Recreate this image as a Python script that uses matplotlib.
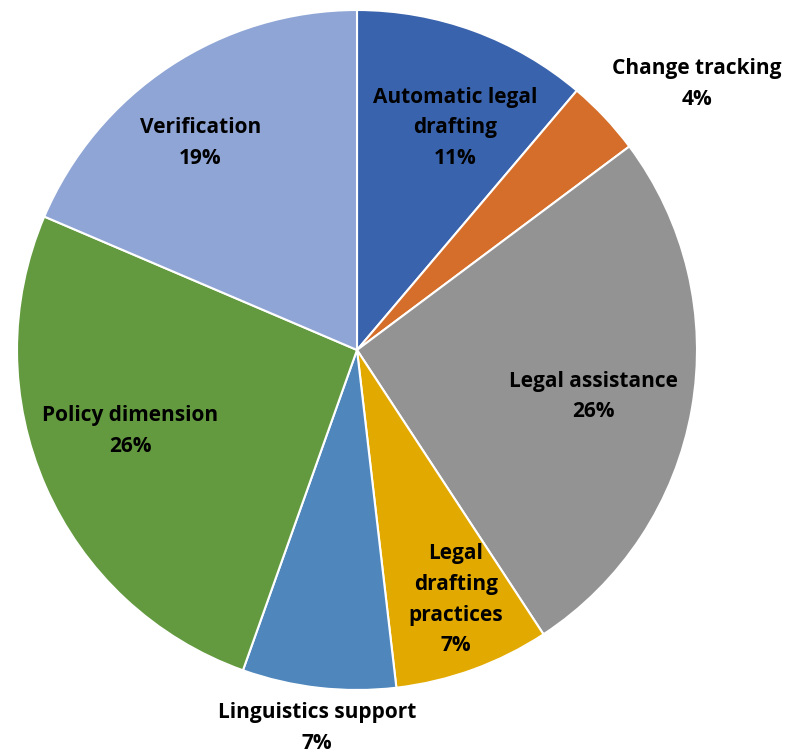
import numpy as np
import matplotlib.pyplot as plt

labels = ["Automatic legal\ndrafting", "Change tracking", "Legal assistance",
          "Legal\ndrafting\npractices", "Linguistics support", "Policy dimension",
          "Verification"]
shares = [11.2, 3.6, 26.0, 7.4, 7.3, 26.0, 18.6]
colors = ["#3A63AD", "#D46E2A", "#939393", "#E2AA00", "#4F87BD", "#639A3F", "#8FA5D5"]
# how far out each label sits (fraction of radius) and small angle nudges
label_r = [0.714, 1.27, 0.708, 0.79, 1.118, 0.708, 0.764]
label_da = [-3.6, -5.2, -1.2, 1.6, 0.4, -4.0, 3.7]

fig = plt.figure(figsize=(7.9, 7.55), dpi=100)
ax = fig.add_axes([17 / 790, 65 / 755, 680 / 790, 680 / 755])

wedges, _ = ax.pie(shares, colors=colors, startangle=90, counterclock=False,
                   wedgeprops=dict(edgecolor="white", linewidth=1.5))

for w, lab, s, r, da in zip(wedges, labels, shares, label_r, label_da):
    ang = np.deg2rad((w.theta1 + w.theta2) / 2 + da)
    ax.text(r * np.cos(ang), r * np.sin(ang), f"{lab}\n{round(s)}%", ha="center", va="center",
            fontsize=15, fontweight="bold", family="Open Sans", linespacing=1.6,
            clip_on=False)

ax.set_xlim(-1, 1)
ax.set_ylim(-1, 1)
ax.set_aspect("equal")
ax.axis("off")

fig.savefig("out.png", dpi=100)
